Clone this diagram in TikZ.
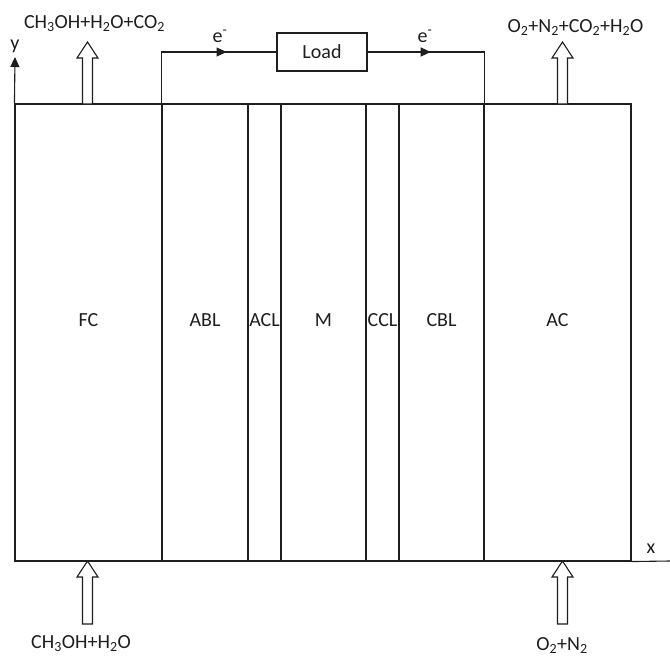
\documentclass[tikz,border=0pt]{standalone}
\usepackage{fontspec}
\setmainfont{Carlito}
\usetikzlibrary{arrows.meta,decorations.markings}
\definecolor{ink}{HTML}{1E1E1E}
\tikzset{
  layer/.style={draw=ink, inner sep=0pt, minimum height=457pt},
  lbl/.style={font=\fontsize{20}{24}\selectfont, inner sep=0pt, text=ink},
  fat/.style={draw=ink, fill=white, line width=1.1pt, line join=miter},
  tipmark/.style={-{Triangle[length=10pt,width=9pt]}},
  wire/.style={draw=ink, line width=1.1pt},
  pics/fatup/.style={code={
    \draw[fat] (0,0) -- (10.5,16) -- (5,16) -- (5,#1) -- (-5,#1) -- (-5,16) -- (-10.5,16) -- cycle;
  }}
}
\begin{document}
\begin{tikzpicture}[x=1pt,y=-1pt, line width=1.1pt]
\useasboundingbox (0,0) rectangle (670,656);
\fill[white] (0,0) rectangle (670,656);
% layers
\foreach \n/\a/\b in {FC/15/162, ABL/162/248, ACL/248/281, M/281/366, CCL/366/399, CBL/399/484, AC/484/631}{
  \node[layer, minimum width=\b-\a] (\n) at ({(\a+\b)/2},332.5) {};
}
% layer labels
\foreach \n/\t in {FC/FC, ABL/ABL, ACL/ACL, M/M, CCL/CCL, CBL/CBL, AC/AC}{
  \node[lbl, anchor=base] at (\n.center |- 0,326) {\t};
}
% load and wires
\node[draw=ink, minimum width=90pt, minimum height=38pt, inner sep=0pt, lbl] (Load) at (322,52) {Load};
\draw[wire, postaction={decorate, decoration={markings, mark=at position 0.70 with {\arrow{Triangle[length=10pt,width=9pt]}}}}]
  (ABL.north west) |- (Load.west);
\draw[wire, postaction={decorate, decoration={markings, mark=at position 0.375 with {\arrow{Triangle[length=10pt,width=9pt]}}}}]
  (Load.east) -| (CBL.north east);
\node[lbl, anchor=base west] (e1) at (212,42) {e\textsuperscript{-}};
\node[lbl, anchor=base west] (e2) at (417,42) {e\textsuperscript{-}};
% axes
\coordinate (ytip) at (15,57);
\coordinate (xend) at (670,561);
\draw[ink, tipmark] (FC.north west) -- (ytip);
\draw[ink] (AC.south east) -- (xend);
\node[lbl] (ylab) at (15,46) {y};
\node[lbl] (xlab) at (651,549) {x};
% flow arrows
\pic at (87.5,42) {fatup=62};
\pic at (562.5,42) {fatup=62};
\pic at (87.5,561) {fatup=63};
\pic at (562.5,561) {fatup=63};
% flow labels
\node[lbl, anchor=base] (in1) at (94.5,28) {CH\textsubscript{3}OH+H\textsubscript{2}O+CO\textsubscript{2}};
\node[lbl, anchor=base] (out2) at (575.5,32) {O\textsubscript{2}+N\textsubscript{2}+CO\textsubscript{2}+H\textsubscript{2}O};
\node[lbl, anchor=base] (in3) at (81,648) {CH\textsubscript{3}OH+H\textsubscript{2}O};
\node[lbl, anchor=base] (in4) at (562,650) {O\textsubscript{2}+N\textsubscript{2}};
\end{tikzpicture}
\end{document}
